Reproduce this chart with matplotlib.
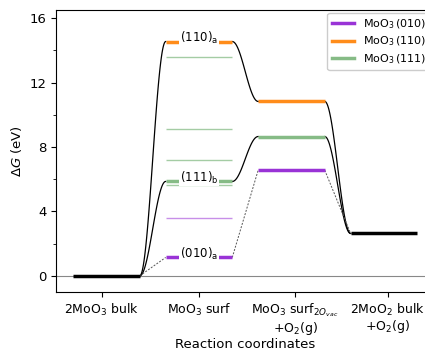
import numpy as np
import matplotlib
matplotlib.use("Agg")
import matplotlib.pyplot as plt

# Reaction steps (level centres), tick positions and their labels
steps = [0, 1, 2, 3]
tick_pos = [-0.05, 1.0, 2.04, 3.04]
step_labels = ["2MoO$_3$ bulk", "MoO$_3$ surf",
               "MoO$_3$ surf$_{2O_{vac}}$\n+O$_2$(g)",
               "2MoO$_2$ bulk\n+O$_2$(g)"]

# Free energies (eV) along the pathway for each facet
g_010 = [0.0, 1.14, 6.56, 2.63]
g_110 = [0.0, 14.55, 10.83, 2.63]
g_111 = [0.0, 5.86, 8.65, 2.63]

# Other (non-minimum) surface terminations at the MoO3 surf step
other_010 = [3.56]
other_111 = [13.56, 9.13, 7.2, 5.65]

c010 = "#9933d6"
c110 = "#ff8c1a"
c111 = "#86bb86"

half = 0.36

fig = plt.figure(figsize=(4.25, 3.5), dpi=100)
ax = fig.add_axes([0.1318, 0.166, 0.888, 0.805])

ax.axhline(0, color="#888888", lw=0.8, zorder=0)


def level(x, y, color, lw=2.5, alpha=1.0, z=3):
    ax.plot([x - half, x + half], [y, y], color=color, lw=lw, alpha=alpha,
            solid_capstyle="butt", zorder=z)


def smooth(x0, y0, x1, y1, **kw):
    t = np.linspace(0, 1, 80)
    s = (1 - np.cos(np.pi * t)) / 2
    ax.plot(x0 + (x1 - x0) * t, y0 + (y1 - y0) * s, **kw)


# Connections between consecutive steps
for g in (g_110, g_111):
    for i in range(len(steps) - 1):
        smooth(steps[i] + half, g[i], steps[i + 1] - half, g[i + 1],
               color="black", lw=0.9, zorder=2)
for i in range(len(steps) - 1):
    ax.plot([steps[i] + half, steps[i + 1] - half], [g_010[i], g_010[i + 1]],
            color="#555555", lw=0.7, ls=(0, (2, 1.5)), zorder=2)

# Thin lines: other terminations
for y in other_111:
    level(1, y, c111, lw=1.0, alpha=0.75, z=2)
for y in other_010:
    level(1, y, c010, lw=1.0, alpha=0.55, z=2)

# Bulk levels
level(0, 0.0, "black")
level(3, g_010[3], "black")

# Facet levels
for i in (1, 2):
    level(steps[i], g_010[i], c010)
    level(steps[i], g_110[i], c110)
    level(steps[i], g_111[i], c111)

# Level annotations sitting on the lines
bbox = dict(facecolor="white", edgecolor="none", pad=0.3)
for g, name in ((g_110, "(110)$_\\mathrm{a}$"),
                (g_111, "(111)$_\\mathrm{b}$"),
                (g_010, "(010)$_\\mathrm{a}$")):
    ax.text(1, g[1] - 0.02, name, ha="center", va="baseline",
            fontsize=8.5, bbox=bbox, zorder=4)

# Legend proxies
ax.plot([], [], color=c010, lw=2.5, label="MoO$_3\\,$(010)")
ax.plot([], [], color=c110, lw=2.5, label="MoO$_3\\,$(110)")
ax.plot([], [], color=c111, lw=2.5, label="MoO$_3\\,$(111)")
ax.legend(loc="upper right", fontsize=8, handlelength=2.0,
          labelspacing=0.35, borderaxespad=0.25, framealpha=1)

ax.set_xlim(-0.546, 3.535)
ax.set_ylim(-1.0, 16.5)
ax.set_xticks(tick_pos)
ax.set_xticklabels(step_labels, fontsize=9, linespacing=1.05)
ax.set_yticks([0, 4, 8, 12, 16])
ax.set_yticks(np.arange(0, 17, 2), minor=True)
ax.tick_params(axis="y", labelsize=9.5)
ax.set_ylabel("$\\Delta G$ (eV)", fontsize=9.5)
ax.set_xlabel("Reaction coordinates", fontsize=9.5, labelpad=1)

fig.savefig("out.png", dpi=100)
